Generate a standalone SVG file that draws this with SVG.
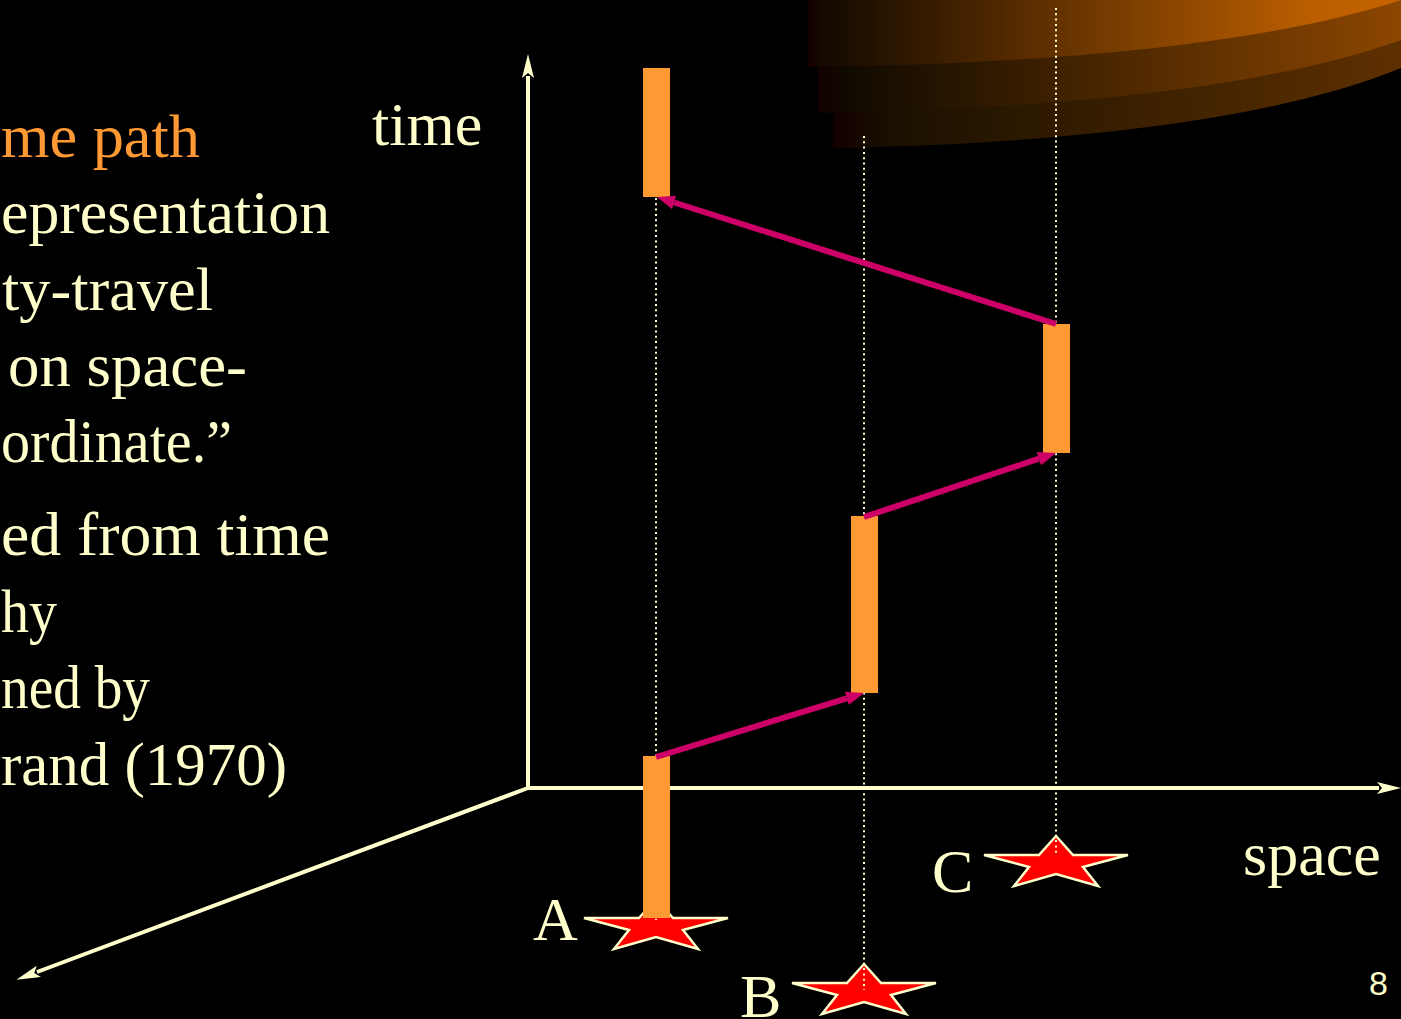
<svg xmlns="http://www.w3.org/2000/svg" xmlns:xlink="http://www.w3.org/1999/xlink" width="1401" height="1019" viewBox="0 0 1401 1019">
<style>
.txt{font-family:"Liberation Serif","Times New Roman",serif;font-size:62px;fill:#FFFFCC}
.hl{fill:#FF9933}
.axis{stroke:#FFFFCC;stroke-width:4;fill:none}
.dot{stroke:#FFFFCC;stroke-width:2;stroke-dasharray:2 3.3;fill:none}
.bar{fill:#FF9933}
.move{stroke:#CC0066;stroke-width:6;fill:none}
.star{fill:#FF0000;stroke:#FFFFCC;stroke-width:2.5;stroke-linejoin:miter}
</style>
<defs>
<linearGradient id="g1" x1="808" y1="0" x2="1401" y2="0" gradientUnits="userSpaceOnUse">
<stop offset="0" stop-color="#150000"/><stop offset="0.03" stop-color="#140a00"/><stop offset="0.85" stop-color="#BB5E00"/><stop offset="1" stop-color="#C46400"/>
</linearGradient>
<linearGradient id="g2" x1="818" y1="0" x2="1401" y2="0" gradientUnits="userSpaceOnUse">
<stop offset="0" stop-color="#120000"/><stop offset="0.05" stop-color="#100a00"/><stop offset="1" stop-color="#8C4600"/>
</linearGradient>
<linearGradient id="g3" x1="833" y1="0" x2="1401" y2="0" gradientUnits="userSpaceOnUse">
<stop offset="0" stop-color="#120000"/><stop offset="0.1" stop-color="#1a1000"/><stop offset="1" stop-color="#5E3000"/>
</linearGradient>
<marker id="mv" viewBox="0 0 18 14" refX="0" refY="7" markerWidth="18" markerHeight="14" markerUnits="userSpaceOnUse" orient="auto">
<path d="M0,0 L18,7 L0,14 Z" fill="#CC0066"/>
</marker>
<marker id="ax" viewBox="0 0 24 12" refX="2" refY="6" markerWidth="24" markerHeight="12" markerUnits="userSpaceOnUse" orient="auto">
<path d="M0,0 L24,6 L0,12 L5,6 Z" fill="#FFFFCC"/>
</marker>
<polygon id="starShape" points="0,0 17,19 72,19 27,31 42,50 0,38 -42,50 -27,31 -72,19 -17,19"/>
</defs>
<rect width="1401" height="1019" fill="#000000"/>
<g id="decor">
<path d="M833,0 L833,148 C1000,145 1250,130 1401,68 L1401,0 Z" fill="url(#g3)"/>
<path d="M818,0 L818,113 C1000,110 1250,95 1401,40 L1401,0 Z" fill="url(#g2)"/>
<path d="M808,0 L808,67 C1000,65 1250,50 1401,0 Z" fill="url(#g1)"/>
</g>
<g id="text">
<text class="txt hl" x="1" y="157" textLength="199" lengthAdjust="spacingAndGlyphs">me path</text>
<text class="txt" x="1" y="233" textLength="329" lengthAdjust="spacingAndGlyphs">epresentation</text>
<text class="txt" x="2" y="310" textLength="211" lengthAdjust="spacingAndGlyphs">ty-travel</text>
<text class="txt" x="8" y="386" textLength="239" lengthAdjust="spacingAndGlyphs">on space-</text>
<text class="txt" x="1" y="462" textLength="231" lengthAdjust="spacingAndGlyphs">ordinate.”</text>
<text class="txt" x="1" y="555" textLength="329" lengthAdjust="spacingAndGlyphs">ed from time</text>
<text class="txt" x="1" y="632" textLength="56" lengthAdjust="spacingAndGlyphs">hy</text>
<text class="txt" x="1" y="708" textLength="149" lengthAdjust="spacingAndGlyphs">ned by</text>
<text class="txt" x="1" y="785" textLength="286" lengthAdjust="spacingAndGlyphs">rand (1970)</text>
</g>
<g id="axes">
<line class="axis" x1="528" y1="790" x2="528" y2="76" marker-end="url(#ax)"/>
<line class="axis" x1="526" y1="788" x2="1379" y2="788" marker-end="url(#ax)"/>
<line class="axis" x1="528" y1="788" x2="37" y2="972" marker-end="url(#ax)"/>
<text class="txt" x="372" y="145">time</text>
<text class="txt" x="1243" y="875">space</text>
</g>
<g id="stars">
<g id="starA"><use xlink:href="#starShape" class="star" transform="translate(656,899)"/><text class="txt" x="533" y="940">A</text></g>
<g id="starB"><use xlink:href="#starShape" class="star" transform="translate(864,964)"/><text class="txt" x="740" y="1017">B</text></g>
<g id="starC"><use xlink:href="#starShape" class="star" transform="translate(1056,836)"/><text class="txt" x="932" y="892">C</text></g>
</g>
<g id="guides">
<line class="dot" x1="656" y1="198" x2="656" y2="920"/>
<line class="dot" x1="864" y1="136" x2="864" y2="990"/>
<line class="dot" x1="1056" y1="8" x2="1056" y2="855"/>
</g>
<g id="bars">
<rect id="bar1" class="bar" x="643" y="68" width="27" height="129"/>
<rect id="bar2" class="bar" x="1043" y="324" width="27" height="129"/>
<rect id="bar3" class="bar" x="851" y="516" width="27" height="177"/>
<rect id="bar4" class="bar" x="643" y="756" width="27" height="162"/>
</g>
<g id="connectors">
<line class="move" x1="1056" y1="324" x2="674.2" y2="202.5" marker-end="url(#mv)"/>
<line class="move" x1="864" y1="517" x2="1038.9" y2="458.7" marker-end="url(#mv)"/>
<line class="move" x1="656" y1="757" x2="846.8" y2="698.3" marker-end="url(#mv)"/>
</g>
<text x="1388" y="995" text-anchor="end" font-family="Liberation Sans, Arial, sans-serif" font-size="34" fill="#FFFFCC">8</text>
</svg>
